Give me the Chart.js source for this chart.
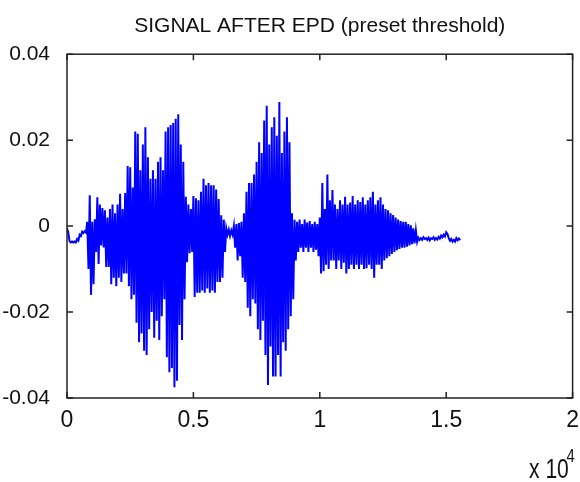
<!DOCTYPE html>
<html>
<head>
<meta charset="utf-8">
<script src="https://cdn.jsdelivr.net/npm/chart.js@4/dist/chart.umd.min.js"></script>
<style>
  html, body { margin: 0; padding: 0; background: #fff; }
  canvas { display: block; }
</style>
</head>
<body>
<canvas id="grafico" width="580" height="482"></canvas>
<script>
// amostras entre cada par de picos
const passoAmostras = 100;

// pico superior de cada bloco
const picosSuperiores = [
  -0.0005, -0.0035, -0.0036, -0.0036, -0.0030, -0.0020, -0.0013, -0.0012, 0.0010, 0.0072,
  0.0010, 0.0016, 0.0067, 0.0050, 0.0042, 0.0037, 0.0020, 0.0040, 0.0050, 0.0030,
  0.0050, 0.0075, 0.0040, 0.0077, 0.0140, 0.0137, 0.0090, 0.0220, 0.0215, 0.0130,
  0.0190, 0.0230, 0.0160, 0.0110, 0.0130, 0.0110, 0.0150, 0.0160, 0.0130, 0.0220,
  0.0230, 0.0235, 0.0240, 0.0250, 0.0260, 0.0190, 0.0150, 0.0068, 0.0050, 0.0040,
  0.0070, 0.0065, 0.0060, 0.0080, 0.0110, 0.0095, 0.0100, 0.0095, 0.0095, 0.0085,
  0.0063, 0.0025, 0.0015, -0.0005, -0.0008, -0.0010, 0.0000, 0.0005, 0.0007, 0.0010,
  0.0030, 0.0080, 0.0100, 0.0100, 0.0120, 0.0150, 0.0195, 0.0170, 0.0246, 0.0280,
  0.0190, 0.0230, 0.0253, 0.0210, 0.0289, 0.0170, 0.0220, 0.0253, 0.0195, 0.0030,
  0.0015, 0.0010, 0.0015, 0.0005, 0.0015, 0.0008, 0.0012, 0.0005, 0.0010, 0.0005,
  0.0020, 0.0100, 0.0040, 0.0120, 0.0060, 0.0084, 0.0050, 0.0040, 0.0060, 0.0050,
  0.0068, 0.0050, 0.0055, 0.0070, 0.0050, 0.0060, 0.0056, 0.0067, 0.0050, 0.0060,
  0.0067, 0.0080, 0.0050, 0.0060, 0.0067, 0.0050, 0.0040, 0.0037, 0.0030, 0.0026,
  0.0020, 0.0015, 0.0012, 0.0010, 0.0010, 0.0005, 0.0002, -0.0005, -0.0010, -0.0027,
  -0.0028, -0.0026, -0.0028, -0.0027, -0.0028, -0.0026, -0.0028, -0.0025, -0.0022, -0.0020,
  -0.0014, -0.0028, -0.0030, -0.0032, -0.0028, -0.0029
];

// pico inferior de cada bloco
const picosInferiores = [
  -0.0015, -0.0038, -0.0038, -0.0038, -0.0034, -0.0023, -0.0016, -0.0015, -0.0100, -0.0160,
  -0.0135, -0.0060, -0.0088, -0.0045, -0.0050, -0.0095, -0.0095, -0.0135, -0.0120, -0.0140,
  -0.0120, -0.0130, -0.0110, -0.0110, -0.0140, -0.0170, -0.0160, -0.0225, -0.0270, -0.0250,
  -0.0290, -0.0300, -0.0240, -0.0200, -0.0260, -0.0220, -0.0265, -0.0210, -0.0170, -0.0305,
  -0.0340, -0.0330, -0.0375, -0.0360, -0.0230, -0.0265, -0.0170, -0.0084, -0.0063, -0.0060,
  -0.0165, -0.0155, -0.0155, -0.0150, -0.0155, -0.0145, -0.0155, -0.0150, -0.0155, -0.0130,
  -0.0130, -0.0120, -0.0060, -0.0020, -0.0023, -0.0020, -0.0050, -0.0080, -0.0070, -0.0120,
  -0.0130, -0.0190, -0.0210, -0.0170, -0.0180, -0.0240, -0.0265, -0.0220, -0.0300, -0.0370,
  -0.0280, -0.0350, -0.0350, -0.0300, -0.0350, -0.0270, -0.0290, -0.0240, -0.0210, -0.0170,
  -0.0080, -0.0060, -0.0050, -0.0060, -0.0050, -0.0060, -0.0050, -0.0060, -0.0055, -0.0070,
  -0.0110, -0.0105, -0.0090, -0.0100, -0.0080, -0.0080, -0.0100, -0.0080, -0.0100, -0.0085,
  -0.0110, -0.0100, -0.0090, -0.0100, -0.0090, -0.0100, -0.0090, -0.0100, -0.0098, -0.0090,
  -0.0100, -0.0120, -0.0090, -0.0090, -0.0100, -0.0080, -0.0075, -0.0070, -0.0065, -0.0060,
  -0.0056, -0.0053, -0.0050, -0.0050, -0.0048, -0.0045, -0.0042, -0.0040, -0.0037, -0.0032,
  -0.0032, -0.0030, -0.0032, -0.0033, -0.0030, -0.0032, -0.0031, -0.0029, -0.0026, -0.0024,
  -0.0018, -0.0034, -0.0036, -0.0036, -0.0033, -0.0033
];

// ticks dos eixos
const ticksX = [0, 5000, 10000, 15000, 20000];
const rotulosX = ['0', '0.5', '1', '1.5', '2'];
const ticksY = [-0.04, -0.02, 0, 0.02, 0.04];
const rotulosY = ['-0.04', '-0.02', '0', '0.02', '0.04'];

const titulo = 'SIGNAL AFTER EPD (preset threshold)';
const fonte = '"Liberation Sans", Arial, sans-serif';

// monta a serie alternando pico superior e inferior
let pontos = [];
picosSuperiores.forEach((v, i) => {
    pontos.push({ x: i * passoAmostras, y: v });
    pontos.push({ x: i * passoAmostras + passoAmostras / 2, y: picosInferiores[i] });
});

// moldura estilo MATLAB com ticks para dentro
const moldura = {
    id: 'moldura',
    afterDraw(chart) {
        const { ctx, chartArea: a, scales } = chart;
        ctx.save();
        ctx.strokeStyle = '#222';
        ctx.lineWidth = 1.5;
        ctx.strokeRect(a.left, a.top, a.right - a.left, a.bottom - a.top);
        ctx.beginPath();
        ticksX.forEach(t => {
            const px = scales.x.getPixelForValue(t);
            ctx.moveTo(px, a.bottom); ctx.lineTo(px, a.bottom - 6);
            ctx.moveTo(px, a.top); ctx.lineTo(px, a.top + 6);
        });
        ticksY.forEach(t => {
            const py = scales.y.getPixelForValue(t);
            ctx.moveTo(a.left, py); ctx.lineTo(a.left + 6, py);
            ctx.moveTo(a.right, py); ctx.lineTo(a.right - 6, py);
        });
        ctx.stroke();

        // multiplicador do eixo x (fonte estreita como no MATLAB)
        ctx.fillStyle = '#111';
        ctx.textBaseline = 'alphabetic';
        ctx.textAlign = 'left';
        ctx.translate(529, 478);
        ctx.scale(0.78, 1);
        ctx.font = '27px ' + fonte;
        ctx.fillText('x 10', 0, 0);
        ctx.font = '19px ' + fonte;
        ctx.fillText('4', 48, -16);
        ctx.restore();
    }
};

new Chart(document.getElementById('grafico'), {
    type: 'line',
    data: {
        datasets: [{
            data: pontos,
            borderColor: '#0000ff',
            borderWidth: 2,
            pointRadius: 0,
            tension: 0,
            fill: false
        }]
    },
    options: {
        responsive: false,
        animation: false,
        devicePixelRatio: 1,
        layout: { padding: { left: 0, right: 5, top: 0, bottom: 0 } },
        plugins: {
            legend: { display: false },
            tooltip: { enabled: false },
            title: {
                display: true,
                fullSize: false,
                text: titulo,
                color: '#111',
                font: { family: fonte, size: 21, weight: 'normal' },
                padding: { top: 14, bottom: 15 }
            }
        },
        scales: {
            x: {
                type: 'linear',
                min: 0,
                max: 20000,
                afterBuildTicks: s => { s.ticks = ticksX.map(v => ({ value: v })); },
                afterFit: s => { s.height = 84; },
                grid: { display: false },
                border: { display: false },
                ticks: {
                    color: '#111',
                    padding: 1,
                    maxRotation: 0,
                    font: { family: fonte, size: 23 },
                    callback: (v) => rotulosX[ticksX.indexOf(v)]
                }
            },
            y: {
                type: 'linear',
                min: -0.04,
                max: 0.04,
                afterBuildTicks: s => { s.ticks = ticksY.map(v => ({ value: v })); },
                afterFit: s => { s.width = 67; },
                grid: { display: false },
                border: { display: false },
                ticks: {
                    color: '#111',
                    padding: 9,
                    font: { family: fonte, size: 21 },
                    callback: (v) => rotulosY[ticksY.indexOf(v)]
                }
            }
        }
    },
    plugins: [moldura]
});
</script>
</body>
</html>
